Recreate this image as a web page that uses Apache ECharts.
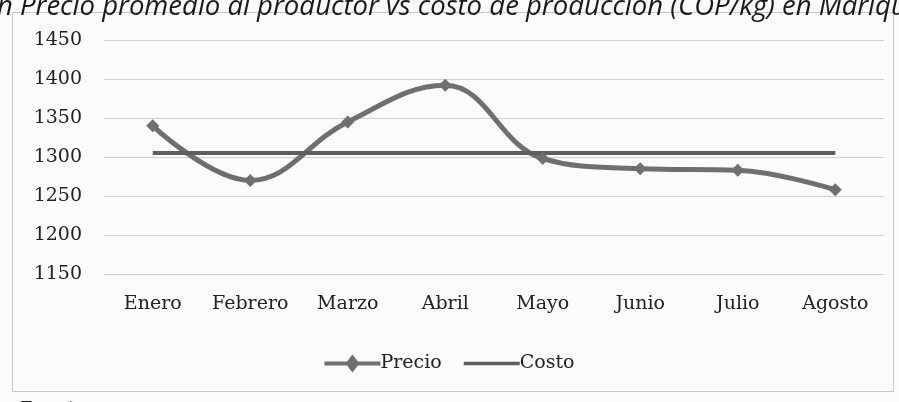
<!DOCTYPE html>
<html><head><meta charset="utf-8">
<script src="https://cdn.jsdelivr.net/npm/echarts@6/dist/echarts.min.js"></script>
<style>html,body{margin:0;padding:0;background:#fbfbfa;}#c{width:899px;height:402px;}</style>
</head><body><div id="c"></div>
<script>
const categories = ['Enero','Febrero','Marzo','Abril','Mayo','Junio','Julio','Agosto'];
const precio = [1340, 1270, 1345, 1392, 1298, 1285, 1283, 1258];
const costo = [1305, 1305, 1305, 1305, 1305, 1305, 1305, 1305];
const yTicks = {min: 1150, max: 1450, interval: 50};
const titleText = 'n Precio promedio al productor vs costo de producción (COP/kg) en Mariquita';

const serif = 'DejaVu Serif';
const chart = echarts.init(document.getElementById('c'), null, {renderer: 'canvas'});
chart.setOption({
  backgroundColor: '#fbfbfa',
  animation: false,
  grid: {left: 104, right: 15, top: 40, bottom: 128, containLabel: false},
  graphic: [
    {type: 'rect', shape: {x: 12.5, y: 12.5, width: 881, height: 379}, style: {fill: 'none', stroke: '#c8c8c8', lineWidth: 1}, z: -1},
    {type: 'text', left: -3, top: -6, style: {text: titleText, font: 'italic 27.5px "Open Sans"', fill: '#1a1a1a'}},
    {type: 'text', left: 20, top: 399, style: {text: 'Fuente:', font: 'bold 20px "Liberation Sans"', fill: '#222'}}
  ],
  legend: {
    bottom: 24, left: 'center', itemWidth: 56, itemHeight: 18, itemGap: 22,
    textStyle: {fontFamily: serif, fontSize: 19, color: '#222', padding: [0,0,0,-5]},
    data: [
      {name: 'Precio', icon: 'path://M0,7L56,7L56,11L0,11Z M28,0L35,9L28,18L21,9Z'},
      {name: 'Costo', icon: 'path://M0,0L60,0L60,4L0,4Z'}
    ]
  },
  xAxis: {
    type: 'category', data: categories, boundaryGap: true,
    axisLine: {show: false}, axisTick: {show: false},
    axisLabel: {fontFamily: serif, fontSize: 19, color: '#222', margin: 21, interval: 0}
  },
  yAxis: {
    type: 'value', min: yTicks.min, max: yTicks.max, interval: yTicks.interval,
    axisLine: {show: false}, axisTick: {show: false},
    axisLabel: {fontFamily: serif, fontSize: 19, color: '#222', margin: 22,
                formatter: v => String(v)},
    splitLine: {lineStyle: {color: '#cfcfcf', width: 1}}
  },
  series: [
    {name: 'Precio', type: 'line', data: precio, smooth: 0.4,
     symbol: 'diamond', symbolSize: 13,
     lineStyle: {color: '#6f6f6c', width: 5},
     itemStyle: {color: '#6f6f6c'}},
    {name: 'Costo', type: 'line', data: costo, symbol: 'none', showSymbol: false,
     lineStyle: {color: '#5e5e5c', width: 4},
     itemStyle: {color: '#5e5e5c'}}
  ]
});
</script></body></html>
